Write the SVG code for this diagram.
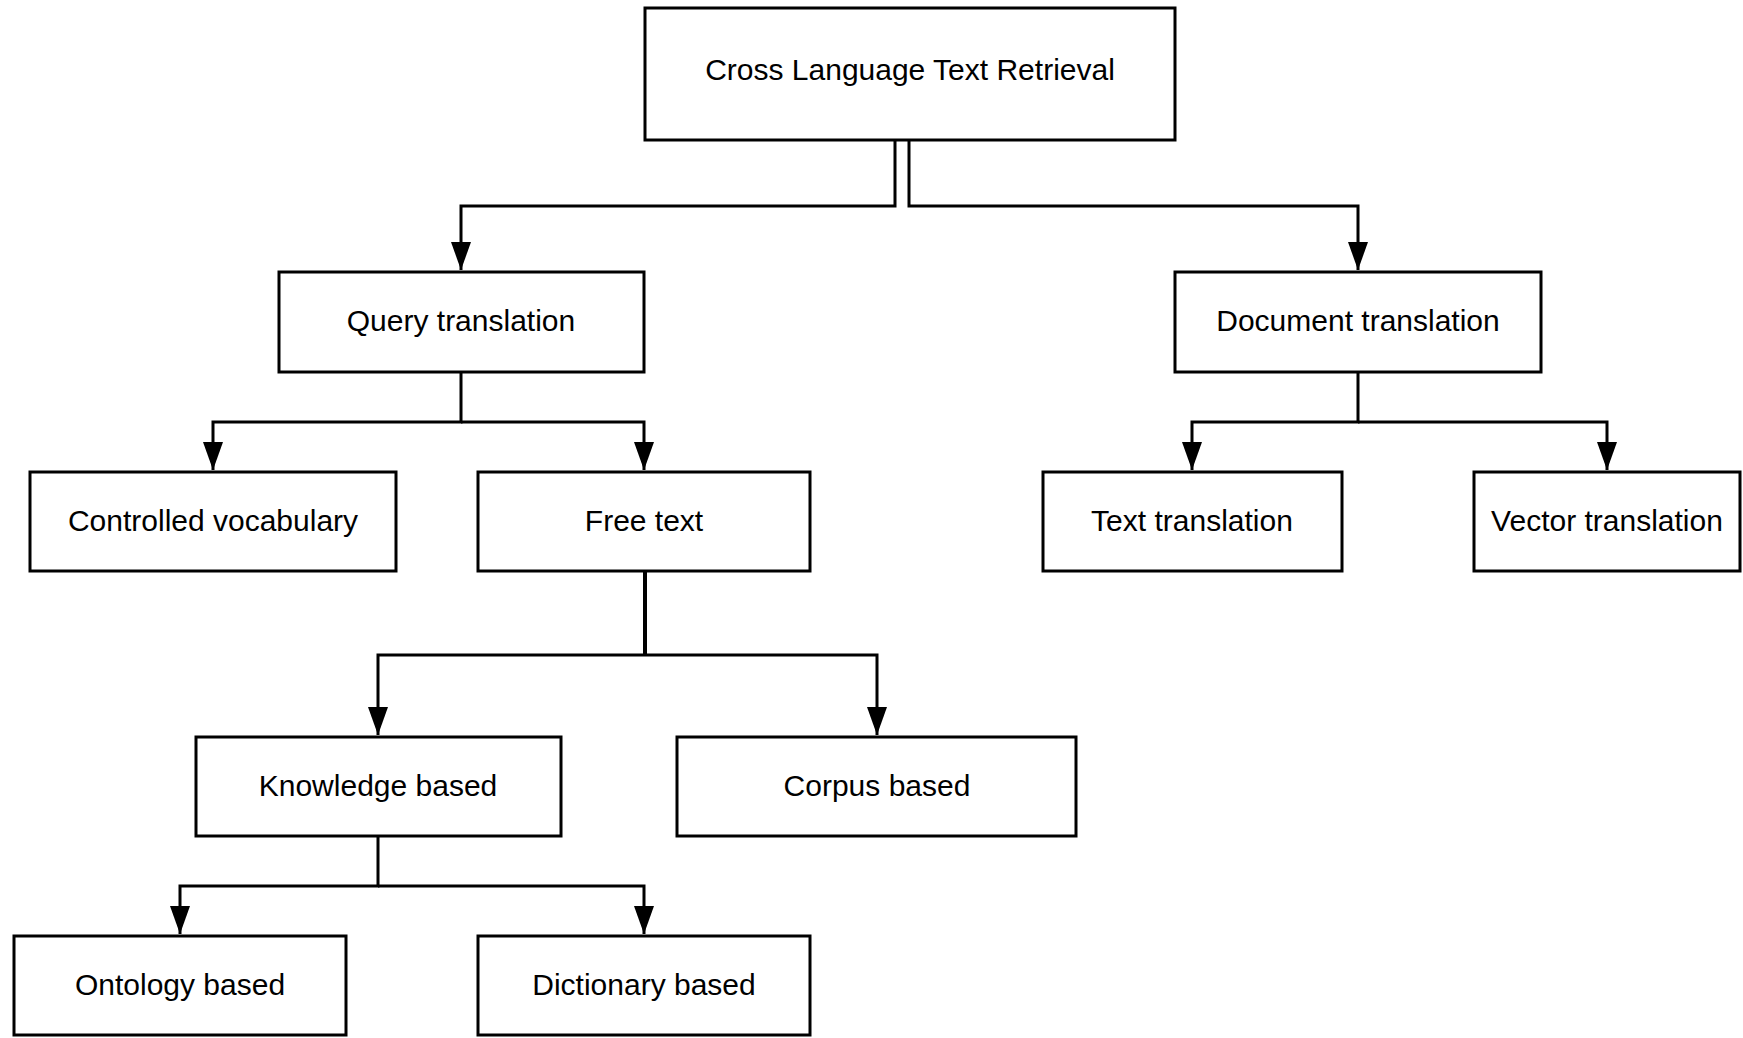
<svg xmlns="http://www.w3.org/2000/svg" width="1743" height="1038" viewBox="0 0 1743 1038">
<style>
.box{fill:#fff;stroke:#000;stroke-width:3}
.lbl{font-family:"Liberation Sans",Arial,sans-serif;font-size:30px;fill:#000;text-anchor:middle}
.con{fill:none;stroke:#000;stroke-width:3}
</style>
<defs>
<marker id="arr" markerUnits="userSpaceOnUse" markerWidth="28" markerHeight="20" refX="28" refY="10" orient="auto" viewBox="0 0 28 20">
<path d="M0,0 L28,10 L0,20 z" fill="#000"/>
</marker>
</defs>
<rect width="1743" height="1038" fill="#fff"/>
<g id="connectors">
<path class="con" d="M895,140 V206 H461 V270" marker-end="url(#arr)"/>
<path class="con" d="M909,140 V206 H1358 V270" marker-end="url(#arr)"/>
<path class="con" d="M461,372 V422 H213 V470" marker-end="url(#arr)"/>
<path class="con" d="M461,422 H644 V470" marker-end="url(#arr)"/>
<path class="con" d="M1358,372 V422 H1192 V470" marker-end="url(#arr)"/>
<path class="con" d="M1358,422 H1607 V470" marker-end="url(#arr)"/>
<path class="con" style="stroke-width:4" d="M645,571 V655"/>
<path class="con" d="M645,655 H378 V735" marker-end="url(#arr)"/>
<path class="con" d="M645,655 H877 V735" marker-end="url(#arr)"/>
<path class="con" d="M378,836 V886 H180 V934" marker-end="url(#arr)"/>
<path class="con" d="M378,886 H644 V934" marker-end="url(#arr)"/>
</g>
<g id="n-root"><rect class="box" x="645" y="8" width="530" height="132"/><text class="lbl" x="910" y="80">Cross Language Text Retrieval</text></g>
<g id="n-query"><rect class="box" x="279" y="272" width="365" height="100"/><text class="lbl" x="461" y="331">Query translation</text></g>
<g id="n-document"><rect class="box" x="1175" y="272" width="366" height="100"/><text class="lbl" x="1358" y="331">Document translation</text></g>
<g id="n-controlled"><rect class="box" x="30" y="472" width="366" height="99"/><text class="lbl" x="213" y="531">Controlled vocabulary</text></g>
<g id="n-free"><rect class="box" x="478" y="472" width="332" height="99"/><text class="lbl" x="644" y="531">Free text</text></g>
<g id="n-texttr"><rect class="box" x="1043" y="472" width="299" height="99"/><text class="lbl" x="1192" y="531">Text translation</text></g>
<g id="n-vector"><rect class="box" x="1474" y="472" width="266" height="99"/><text class="lbl" x="1607" y="531">Vector translation</text></g>
<g id="n-knowledge"><rect class="box" x="196" y="737" width="365" height="99"/><text class="lbl" x="378" y="796">Knowledge based</text></g>
<g id="n-corpus"><rect class="box" x="677" y="737" width="399" height="99"/><text class="lbl" x="877" y="796">Corpus based</text></g>
<g id="n-ontology"><rect class="box" x="14" y="936" width="332" height="99"/><text class="lbl" x="180" y="995">Ontology based</text></g>
<g id="n-dictionary"><rect class="box" x="478" y="936" width="332" height="99"/><text class="lbl" x="644" y="995">Dictionary based</text></g>
</svg>
